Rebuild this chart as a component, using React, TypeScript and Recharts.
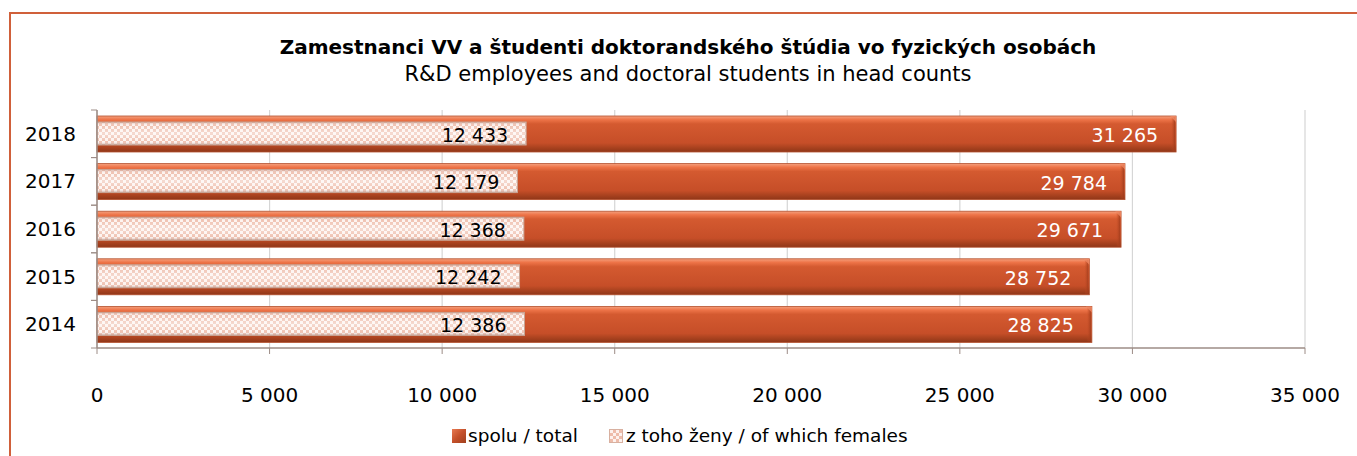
import React from 'react';
import { BarChart, Bar, XAxis, YAxis, CartesianGrid, LabelList } from 'recharts';

const years = ['2018', '2017', '2016', '2015', '2014'];
const totalValues = [31265, 29784, 29671, 28752, 28825];
const femaleValues = [12433, 12179, 12368, 12242, 12386];
const xTicks = [0, 5000, 10000, 15000, 20000, 25000, 30000, 35000];

const data = years.map((year, i) => ({
  year,
  total: totalValues[i],
  females: femaleValues[i],
}));

const fmt = (v: number) => String(v).replace(/\B(?=(\d{3})+(?!\d))/g, ' ');

const FONT = '"DejaVu Sans", Arial, sans-serif';
const ORANGE = '#d0603a';
const AXIS = '#9c8c86';
const Y_TICK_GAP = 21;

function TotalShape(props: any) {
  const { x, y, width, height } = props;
  if (!width || width <= 0) return null;
  return (
    <g>
      <rect x={x} y={y} width={width} height={height} fill="url(#totGrad)" stroke="#b4502e" strokeWidth={0.8} />
      <rect x={x + width - 5} y={y + 1} width={4} height={height - 2} fill="url(#totEnd)" />
      <polygon points={`${x + width - 6},${y} ${x + width},${y} ${x + width},${y + 6}`} fill="#f08a64" opacity={0.8} />
    </g>
  );
}

function FemaleShape(props: any) {
  const { x, y, width, height } = props;
  if (!width || width <= 0) return null;
  return (
    <g>
      <rect x={x} y={y} width={width} height={height} fill="url(#femCheck)" />
      <rect x={x} y={y} width={width} height={height} fill="url(#femShade)" stroke="#c8a494" strokeWidth={1} />
    </g>
  );
}

// year label plus the small tick marks that sit between the category bands
function YearTick(props: any) {
  const { x, y, payload } = props;
  const half = payload && payload.offset ? payload.offset : 0;
  const axisX = x + Y_TICK_GAP;
  return (
    <g>
      <text x={x} y={y} textAnchor="end" dominantBaseline="central" fill="#000" fontSize={20} fontFamily={FONT}>
        {payload.value}
      </text>
      {half > 0 && (
        <>
          <line x1={axisX - 6} x2={axisX} y1={y - half} y2={y - half} stroke={AXIS} />
          <line x1={axisX - 6} x2={axisX} y1={y + half} y2={y + half} stroke={AXIS} />
        </>
      )}
    </g>
  );
}

function totalLabel(props: any) {
  const { x, y, width, height, value } = props;
  return (
    <text x={x + width - 18} y={y + height / 2 + 1} textAnchor="end" dominantBaseline="central" fill="#ffffff" fontSize={19} fontFamily={FONT}>
      {fmt(value)}
    </text>
  );
}

function femaleLabel(props: any) {
  const { x, y, width, height, value } = props;
  return (
    <text x={x + width - 18} y={y + height / 2 + 1} textAnchor="end" dominantBaseline="central" fill="#000000" fontSize={19} fontFamily={FONT}>
      {fmt(value)}
    </text>
  );
}

export default function App() {
  return (
    <div style={{ position: 'absolute', left: 0, top: 0, width: 1357, height: 456, overflow: 'hidden', background: '#fff', fontFamily: FONT }}>
      <svg width={0} height={0} style={{ position: 'absolute' }}>
        <defs>
          <linearGradient id="totGrad" x1="0" y1="0" x2="0" y2="1">
            <stop offset="0%" stopColor="#f4a07e" />
            <stop offset="10%" stopColor="#ee7448" />
            <stop offset="22%" stopColor="#d45a30" />
            <stop offset="75%" stopColor="#c64e28" />
            <stop offset="88%" stopColor="#a9421f" />
            <stop offset="100%" stopColor="#8f3618" />
          </linearGradient>
          <linearGradient id="totEnd" x1="0" y1="0" x2="1" y2="0">
            <stop offset="0%" stopColor="#c04a24" stopOpacity={0} />
            <stop offset="100%" stopColor="#a03c1c" stopOpacity={0.9} />
          </linearGradient>
          <pattern id="femCheck" patternUnits="userSpaceOnUse" width={6} height={6}>
            <rect width={6} height={6} fill="#fdf2ee" />
            <rect width={3} height={3} fill="#eebcaa" />
            <rect x={3} y={3} width={3} height={3} fill="#eebcaa" />
          </pattern>
          <linearGradient id="femShade" x1="0" y1="0" x2="0" y2="1">
            <stop offset="0%" stopColor="#c89484" stopOpacity={0.7} />
            <stop offset="15%" stopColor="#ffffff" stopOpacity={0.1} />
            <stop offset="50%" stopColor="#ffffff" stopOpacity={0.45} />
            <stop offset="85%" stopColor="#ffffff" stopOpacity={0.1} />
            <stop offset="100%" stopColor="#a88478" stopOpacity={0.7} />
          </linearGradient>
        </defs>
      </svg>

      <div style={{ position: 'absolute', left: 0, width: 1376, top: 35, textAlign: 'center', fontSize: 20, fontWeight: 'bold', color: '#000' }}>
        Zamestnanci VV a študenti doktorandského štúdia vo fyzických osobách
      </div>
      <div style={{ position: 'absolute', left: 0, width: 1376, top: 62, textAlign: 'center', fontSize: 21, color: '#000' }}>
        R&amp;D employees and doctoral students in head counts
      </div>

      <div style={{ position: 'absolute', left: 0, top: 0 }}>
        <BarChart
          width={1357}
          height={456}
          data={data}
          layout="vertical"
          margin={{ top: 110, right: 52, bottom: 48, left: 17 }}
        >
          <CartesianGrid horizontal={false} stroke="#d6d6d6" strokeWidth={1.2} />
          <XAxis
            type="number"
            domain={[0, 35000]}
            ticks={xTicks}
            tickFormatter={fmt}
            height={60}
            tickSize={6}
            tickMargin={34}
            axisLine={{ stroke: AXIS, strokeWidth: 1.5 }}
            tickLine={{ stroke: AXIS }}
            tick={{ fill: '#000', fontSize: 20, fontFamily: FONT }}
            interval={0}
          />
          <XAxis
            xAxisId="top"
            orientation="top"
            type="number"
            domain={[0, 35000]}
            height={0}
            tick={false}
            tickLine={false}
            axisLine={{ stroke: ORANGE, strokeWidth: 1.2 }}
          />
          <YAxis
            type="category"
            dataKey="year"
            width={80}
            tickSize={0}
            tickMargin={Y_TICK_GAP}
            tickLine={false}
            axisLine={{ stroke: AXIS, strokeWidth: 1.5 }}
            tick={<YearTick />}
          />
          <YAxis
            yAxisId="fem"
            orientation="right"
            type="category"
            dataKey="year"
            width={0}
            tick={false}
            tickLine={false}
            axisLine={{ stroke: ORANGE, strokeWidth: 1.2 }}
          />
          <Bar dataKey="total" barSize={36} shape={<TotalShape />} isAnimationActive={false}>
            <LabelList dataKey="total" content={totalLabel} />
          </Bar>
          <Bar dataKey="females" yAxisId="fem" barSize={23} shape={<FemaleShape />} isAnimationActive={false}>
            <LabelList dataKey="females" content={femaleLabel} />
          </Bar>
        </BarChart>
      </div>

      <div style={{ position: 'absolute', left: 452, top: 425, display: 'flex', alignItems: 'center', fontSize: 18.5, color: '#000', whiteSpace: 'nowrap' }}>
        <span style={{ display: 'inline-block', width: 14, height: 14, background: 'linear-gradient(135deg, #e87a52 0%, #c4502a 50%, #a0401e 100%)', marginRight: 2 }} />
        <span>spolu / total</span>
        <span style={{ display: 'inline-block', width: 14, height: 14, marginLeft: 31, marginRight: 3, border: '1px solid #d8b0a0', boxSizing: 'border-box', background: 'repeating-conic-gradient(#eebcaa 0% 25%, #fdf2ee 0% 50%) 0 0 / 6px 6px' }} />
        <span>z toho ženy / of which females</span>
      </div>

      <div style={{ position: 'absolute', left: 9, top: 12, width: 1400, height: 500, border: `2px solid ${ORANGE}`, pointerEvents: 'none' }} />
    </div>
  );
}
